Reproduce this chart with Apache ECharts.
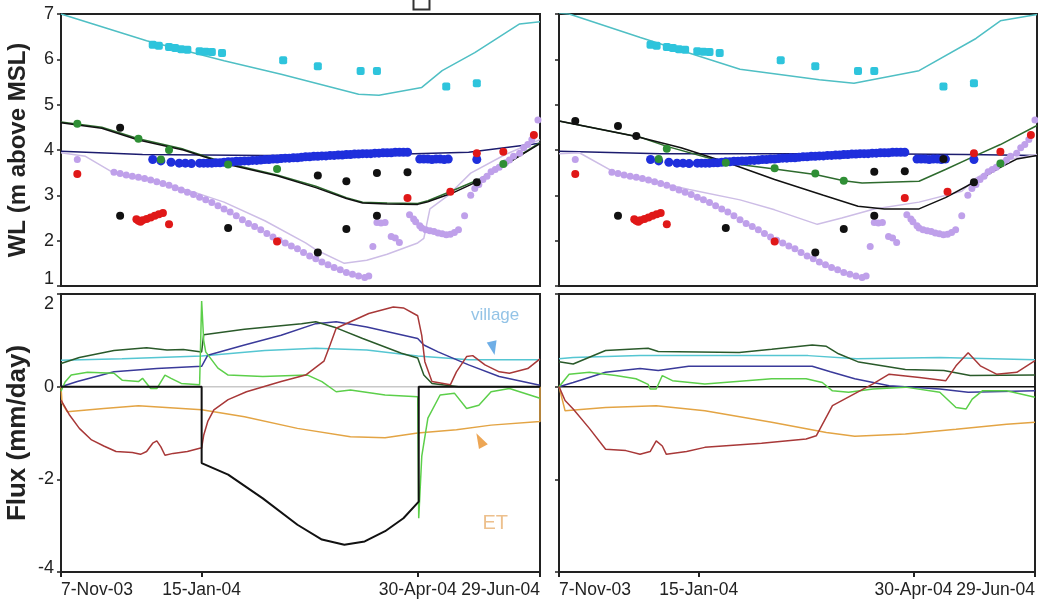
<!DOCTYPE html>
<html><head><meta charset="utf-8">
<script src="https://cdn.jsdelivr.net/npm/echarts@6/dist/echarts.min.js"></script>
<style>html,body{margin:0;padding:0;background:#fff}#c{width:1038px;height:603px}</style>
</head><body><div id="c"></div><script>
// x values are days since 7-Nov-2003
const tickDays = [0, 69, 175, 235];
const tickLabels = ['7-Nov-03', '15-Jan-04', '30-Apr-04', '29-Jun-04'];
const wlTicks = [1, 2, 3, 4, 5, 6, 7];
const fluxTicks = [-4, -2, 0, 2];

// ---- Water level: observations (shared by both top panels) ----
const obsCyan = [[45,6.32],[48,6.30],[53,6.27],[56,6.25],[59,6.22],[62,6.21],[68,6.18],[71,6.17],[74,6.16],[79,6.14],[109,5.98],[126,5.85],[147,5.74],[155,5.74],[189,5.40],[204,5.47]];
const obsBlue = [[45,3.79],[49,3.76],[54,3.73],[58,3.71],[61,3.71],[64,3.70],[68,3.71],[70,3.71],[72,3.71],[74,3.71],[76,3.72],[78,3.72],[80,3.73],[82,3.74],[84,3.74],[86,3.75],[88,3.75],[90,3.76],[92,3.76],[94,3.77],[96,3.77],[98,3.78],[100,3.79],[102,3.79],[104,3.80],[106,3.80],[108,3.81],[110,3.82],[112,3.82],[114,3.83],[116,3.83],[118,3.84],[120,3.85],[122,3.85],[124,3.86],[126,3.86],[128,3.87],[130,3.87],[132,3.88],[134,3.88],[136,3.89],[138,3.89],[140,3.90],[142,3.90],[144,3.91],[146,3.91],[148,3.92],[150,3.92],[152,3.92],[154,3.93],[156,3.93],[158,3.94],[160,3.94],[162,3.94],[164,3.95],[166,3.95],[168,3.95],[170,3.95],[176,3.80],[178,3.80],[180,3.80],[182,3.79],[184,3.80],[186,3.80],[188,3.79],[190,3.80],[204,3.79]];
const obsRed = [[8,3.47],[37,2.47],[38,2.44],[39,2.42],[40,2.45],[42,2.48],[44,2.51],[46,2.55],[48,2.58],[50,2.61],[53,2.36],[106,1.98],[170,2.94],[191,3.08],[204,3.93],[217,3.96],[232,4.33]];
const obsBlackLow = [[29,2.55],[82,2.28],[126,1.74],[140,2.26],[155,2.55]];
const obsLav = [[8,3.79],[26,3.51],[29,3.48],[32,3.45],[35,3.42],[38,3.40],[41,3.37],[44,3.34],[47,3.30],[50,3.26],[53,3.22],[56,3.17],[59,3.12],[62,3.07],[65,3.02],[68,2.96],[71,2.90],[74,2.84],[77,2.77],[80,2.70],[83,2.63],[86,2.55],[89,2.46],[92,2.38],[95,2.31],[98,2.24],[101,2.16],[104,2.08],[107,2.01],[110,1.95],[113,1.88],[116,1.82],[119,1.74],[122,1.66],[125,1.60],[128,1.53],[131,1.47],[134,1.41],[137,1.36],[140,1.30],[143,1.26],[146,1.22],[149,1.19],[151,1.22],
  [153,1.87],[155,2.40],[157,2.39],[159,2.40],[162,2.09],[164,2.06],[166,1.96],[171,2.57],[173,2.48],[174,2.42],[176,2.33],[177,2.28],[179,2.24],[181,2.22],[183,2.20],[185,2.17],[187,2.15],[189,2.13],[191,2.14],[193,2.18],[195,2.24],[198,2.55],[201,3.00],[203,3.15],[205,3.24],[207,3.35],[209,3.42],[211,3.52],[213,3.57],[215,3.62],[218,3.72],[220,3.78],[222,3.86],[225,3.93],[227,4.05],[229,4.12],[231,4.23],[234,4.66]];
const obsBlackL = [[29,4.49],[126,3.44],[140,3.31],[155,3.49],[170,3.51],[204,3.29]];
const obsGreenL = [[8,4.58],[38,4.25],[49,3.79],[53,4.00],[82,3.68],[106,3.58],[217,3.69]];
const obsBlackR = [[8,4.64],[29,4.53],[38,4.31],[155,3.52],[170,3.53],[189,3.80],[204,3.29]];
const obsGreenR = [[49,3.80],[53,4.03],[82,3.72],[106,3.60],[126,3.48],[140,3.32],[217,3.70]];

// ---- Water level: simulated lines ----
const simCyanL = [[0,7.0],[42,6.41],[80,5.97],[108,5.67],[146,5.23],[156,5.21],[177,5.38],[187,5.75],[203,6.15],[225,6.78],[235,6.83]];
const simNavyL = [[0,3.97],[40,3.90],[100,3.88],[160,3.90],[200,3.95],[235,4.15]];
const simGreenL = [[0,4.62],[20,4.50],[38,4.25],[60,4.02],[82,3.70],[106,3.45],[125,3.20],[140,2.95],[148,2.85],[160,2.83],[175,2.82],[180,2.88],[192,3.10],[205,3.35],[218,3.68],[235,4.16]];
const simBlackL = [[0,4.60],[20,4.48],[38,4.22],[60,4.00],[82,3.68],[106,3.43],[125,3.17],[140,2.93],[148,2.83],[160,2.81],[175,2.80],[180,2.86],[192,3.05],[205,3.32],[218,3.68],[235,4.14]];
const simLavL = [[0,3.94],[12,3.86],[26,3.49],[45,3.32],[66,3.06],[80,2.85],[100,2.44],[120,1.95],[125,1.80],[139,1.50],[150,1.57],[160,1.70],[175,1.95],[178,2.05],[181,2.70],[190,3.00],[201,3.49],[218,3.90],[235,4.23]];
const simCyanR = [[0,7.02],[5,7.0],[40,6.48],[89,5.78],[128,5.55],[145,5.47],[177,5.75],[205,6.46],[217,6.85],[235,6.99]];
const simNavyR = [[0,3.97],[50,3.92],[100,3.92],[150,3.92],[200,3.90],[235,3.88]];
const simGreenR = [[0,4.64],[40,4.28],[53,4.08],[82,3.72],[106,3.58],[126,3.46],[140,3.32],[149,3.27],[177,3.31],[190,3.57],[204,3.86],[217,4.12],[235,4.54]];
const simBlackR = [[0,4.64],[38,4.30],[60,4.05],[83,3.72],[106,3.35],[130,3.00],[147,2.76],[160,2.70],[177,2.70],[190,2.95],[205,3.31],[217,3.62],[225,3.80],[235,3.88]];
const simLavR = [[0,3.92],[10,3.94],[28,3.49],[64,3.13],[89,2.90],[106,2.68],[127,2.36],[139,2.50],[155,2.70],[177,2.85],[198,3.09],[205,3.38],[221,3.79],[235,3.90]];

// ---- Flux (mm/day), left panel ----
const fluxZeroL = [[0,0],[235,0]];
const fluxCyanL = [[0,0.57],[30,0.60],[69,0.66],[100,0.78],[125,0.83],[150,0.79],[175,0.66],[200,0.58],[235,0.58]];
const fluxDkGreenL = [[0,0.50],[9,0.63],[26,0.78],[42,0.84],[52,0.79],[60,0.80],[69,0.75],[70,1.12],[90,1.24],[118,1.36],[125,1.40],[135,1.27],[148,1.04],[167,0.72],[175,0.62],[178,0.25],[182,0.07],[195,0.0],[235,0.0]];
const fluxNavyL = [[0,0],[8,0.11],[26,0.32],[47,0.39],[69,0.44],[72,0.68],[90,0.90],[108,1.11],[125,1.36],[135,1.40],[150,1.29],[175,1.04],[178,0.90],[185,0.75],[200,0.47],[215,0.22],[235,0.03]];
const fluxRedL = [[0,-0.29],[4,-0.60],[9,-0.90],[15,-1.15],[21,-1.28],[27,-1.40],[35,-1.42],[39,-1.46],[42,-1.40],[45,-1.22],[47,-1.17],[49,-1.30],[51,-1.48],[55,-1.44],[62,-1.40],[69,-1.32],[70,-1.05],[72,-0.75],[75,-0.50],[82,-0.28],[91,-0.11],[108,0.11],[120,0.25],[129,0.55],[132,0.90],[135,1.26],[142,1.40],[151,1.58],[163,1.72],[168,1.70],[175,1.53],[177,1.10],[178.5,0.54],[182,0.11],[191,0.04],[194,0.32],[199,0.65],[202,0.67],[208,0.47],[215,0.32],[220,0.29],[229,0.39],[235,0.60]];
const fluxBlackL = [[0,0],[69,0],[69,-1.65],[82,-1.90],[99,-2.41],[116,-2.98],[128,-3.30],[139,-3.41],[149,-3.34],[159,-3.12],[168,-2.84],[175.5,-2.48],[175.5,0],[235,0]];
const fluxGreenL = [[0,-0.10],[2,0.10],[5,0.25],[13,0.31],[26,0.29],[30,0.14],[38,0.11],[40,0.18],[44,-0.04],[47,-0.04],[51,0.25],[54,0.18],[59,0.07],[68,0.04],[69,1.85],[70,1.00],[71,0.75],[77,0.40],[82,0.25],[99,0.22],[121,0.25],[128,0.11],[135,-0.11],[142,-0.07],[159,-0.18],[175,-0.22],[175.5,-2.84],[177,-1.50],[180,-0.68],[186,-0.18],[193,-0.14],[199,-0.47],[205,-0.40],[211,-0.11],[220,-0.04],[235,-0.25]];
const fluxOrangeL = [[0,0],[0.5,-0.35],[3,-0.54],[21,-0.47],[38,-0.41],[69,-0.50],[90,-0.65],[116,-0.90],[142,-1.08],[159,-1.10],[175,-1.00],[194,-0.93],[211,-0.83],[235,-0.75],[235,0]];

// ---- Flux (mm/day), right panel ----
const fluxCyanR = [[0,0.60],[7,0.63],[40,0.67],[123,0.67],[147,0.60],[188,0.63],[235,0.58]];
const fluxDkGreenR = [[0,0.54],[7,0.49],[23,0.78],[44,0.83],[49,0.76],[89,0.74],[105,0.81],[125,0.90],[132,0.87],[138,0.71],[148,0.53],[171,0.37],[190,0.35],[203,0.24],[235,0.25]];
const fluxNavyR = [[0,0],[7,0.09],[23,0.31],[40,0.39],[49,0.35],[64,0.44],[125,0.44],[134,0.32],[146,0.17],[163,0.02],[188,-0.05],[202,-0.12],[235,-0.09]];
const fluxBlackR = [[0,0],[235,0]];
const fluxRedR = [[0,0],[3,-0.30],[7,-0.48],[15,-0.90],[23,-1.35],[33,-1.38],[40,-1.46],[45,-1.40],[48,-1.17],[51,-1.28],[53,-1.46],[63,-1.40],[72,-1.31],[100,-1.22],[122,-1.13],[127,-1.06],[135,-0.41],[155,0.06],[163,0.27],[178,0.20],[191,0.13],[196,0.45],[202,0.73],[208,0.45],[216,0.27],[226,0.31],[235,0.56]];
const fluxGreenR = [[0,0],[5,0.27],[15,0.31],[28,0.24],[38,0.17],[44,0.05],[45,-0.05],[48,-0.05],[51,0.24],[56,0.13],[72,0.06],[105,0.17],[122,0.17],[130,0.09],[135,-0.09],[143,-0.12],[155,-0.05],[171,-0.01],[188,-0.12],[196,-0.45],[201,-0.48],[204,-0.27],[209,-0.09],[221,-0.09],[235,-0.23]];
const fluxOrangeR = [[0,0],[3,-0.52],[23,-0.45],[48,-0.41],[72,-0.52],[105,-0.77],[132,-0.99],[146,-1.07],[171,-1.02],[196,-0.92],[221,-0.81],[235,-0.77]];

// annotation anchors (data coords)
const villageLabel = [213, 1.53];
const villageArrow = [212, 0.83];
const etLabel = [213, -2.96];
const etArrow = [205.5, -1.15];

const FONT = 'Liberation Sans, Arial, sans-serif';
const chart = echarts.init(document.getElementById('c'), null, {renderer: 'canvas'});

function line(data, color, idx, w, z) {
  return {type: 'line', data, xAxisIndex: idx, yAxisIndex: idx, symbol: 'none', smooth: false,
    lineStyle: {color, width: w || 1.5}, z: z || 2, silent: true, animation: false};
}
function dots(data, color, idx, size, sym, z) {
  return {type: 'scatter', data, xAxisIndex: idx, yAxisIndex: idx, symbol: sym || 'circle',
    symbolSize: size || 8, itemStyle: {color, opacity: 1}, z: z || 3, silent: true, animation: false};
}

const grids = [
  {left: 61, top: 14, width: 479, height: 272},
  {left: 559, top: 14, width: 478, height: 272},
  {left: 61, top: 294, width: 479, height: 278},
  {left: 559, top: 294, width: 478, height: 278}
].map(g => Object.assign(g, {show: true, borderColor: '#222', borderWidth: 2, backgroundColor: 'transparent'}));

const xAxes = [0,1,2,3].map(i => {
  const bottom = i >= 2;
  return {
    gridIndex: i, type: 'value', min: 0, max: 235,
    axisLine: {show: true, onZero: false, lineStyle: {color: '#222', width: 2}},
    axisTick: {show: bottom, customValues: tickDays, length: 5, lineStyle: {color: '#222', width: 2}},
    axisLabel: {show: bottom, customValues: tickDays, formatter: v => tickLabels[tickDays.indexOf(v)] || '',
      fontSize: 17.5, fontFamily: FONT, color: '#222', margin: 9, alignMinLabel: 'left', alignMaxLabel: 'right'},
    splitLine: {show: false}
  };
});
const labStyle = {fontSize: 18, fontFamily: FONT, color: '#222'};
const yAxes = [0,1,2,3].map(i => {
  const top = i < 2, leftPanel = (i % 2 === 0);
  const ax = {
    gridIndex: i, type: 'value',
    min: top ? 1 : -4, max: top ? 7 : 2, interval: top ? 1 : 2,
    axisLine: {show: true, onZero: false, lineStyle: {color: '#222', width: 2}},
    axisTick: {show: true, length: 4, lineStyle: {color: '#222', width: 1.5}},
    axisLabel: {show: leftPanel, fontSize: 18, fontFamily: FONT, color: '#222', margin: 7,
      formatter: v => {
        if (top && v === 1) return '{lo|1}';
        if (!top && v === 2) return '{hi|2}';
        if (!top && v === -4) return '{lo2|-4}';
        return String(v);
      },
      rich: {
        lo: Object.assign({padding: [0, 0, 13, 0]}, labStyle),
        lo2: Object.assign({padding: [0, 0, 7, 0]}, labStyle),
        hi: Object.assign({padding: [20, 0, 0, 0]}, labStyle)
      }},
    splitLine: {show: false}
  };
  if (leftPanel) {
    ax.name = top ? 'WL (m above MSL)' : 'Flux (mm/day)';
    ax.nameLocation = 'middle';
    ax.nameGap = top ? 31 : 30;
    ax.nameTextStyle = {fontSize: top ? 24 : 26, fontWeight: 'bold', fontFamily: FONT, color: '#222'};
  }
  return ax;
});

const C = {
  simCyan: '#4fbfc4', obsCyan: '#2ec4dc', navy: '#1c1c6e', blue: '#1f2fdc', simGreen: '#2e6b2e',
  black: '#111111', obsGreen: '#2f8f35', red: '#e01818', lav: '#bfa0ea', lavLine: '#cdbde6',
  fCyan: '#55c6d2', fDkGreen: '#2a5a2a', fNavy: '#3a3a9a', fGreen: '#5ccf4a', fRed: '#a83838', fOrange: '#e3a444', zero: '#c8c8c8'
};

const series = [
  // top-left
  line(simCyanL, C.simCyan, 0), line(simNavyL, C.navy, 0), line(simLavL, C.lavLine, 0),
  line(simGreenL, C.simGreen, 0), line(simBlackL, C.black, 0),
  dots(obsLav, C.lav, 0, 7), dots(obsBlue, C.blue, 0, 9), dots(obsCyan, C.obsCyan, 0, 8, 'roundRect'),
  dots(obsRed, C.red, 0, 8), dots(obsGreenL, C.obsGreen, 0, 8), dots(obsBlackL, C.black, 0, 8), dots(obsBlackLow, C.black, 0, 8),
  // top-right
  line(simCyanR, C.simCyan, 1), line(simNavyR, C.navy, 1), line(simLavR, C.lavLine, 1),
  line(simGreenR, C.simGreen, 1), line(simBlackR, C.black, 1),
  dots(obsLav, C.lav, 1, 7), dots(obsBlue, C.blue, 1, 9), dots(obsCyan, C.obsCyan, 1, 8, 'roundRect'),
  dots(obsRed, C.red, 1, 8), dots(obsGreenR, C.obsGreen, 1, 8), dots(obsBlackR, C.black, 1, 8), dots(obsBlackLow, C.black, 1, 8),
  // bottom-left
  line(fluxZeroL, C.zero, 2, 1.5, 1),
  line(fluxOrangeL, C.fOrange, 2), line(fluxCyanL, C.fCyan, 2), line(fluxNavyL, C.fNavy, 2),
  line(fluxDkGreenL, C.fDkGreen, 2), line(fluxGreenL, C.fGreen, 2), line(fluxRedL, C.fRed, 2), line(fluxBlackL, C.black, 2, 2),
  // bottom-right
  line(fluxBlackR, C.black, 3, 1.5), line(fluxOrangeR, C.fOrange, 3), line(fluxCyanR, C.fCyan, 3), line(fluxNavyR, C.fNavy, 3),
  line(fluxDkGreenR, C.fDkGreen, 3), line(fluxGreenR, C.fGreen, 3), line(fluxRedR, C.fRed, 3),
  // annotations (bottom-left)
  {type: 'scatter', xAxisIndex: 2, yAxisIndex: 2, silent: true, animation: false, z: 5,
   data: [
     {value: villageLabel, symbolSize: 1, itemStyle: {color: 'rgba(0,0,0,0)'},
      label: {show: true, position: 'inside', formatter: 'village', color: '#78b4e0', fontSize: 17, fontFamily: FONT}},
     {value: etLabel, symbolSize: 1, itemStyle: {color: 'rgba(0,0,0,0)'},
      label: {show: true, position: 'inside', formatter: 'ET', color: '#e8b070', fontSize: 20, fontFamily: FONT}},
     {value: villageArrow, symbol: 'path://M0,0 L12,0 L6,16 Z', symbolSize: [10, 14], symbolRotate: 12, itemStyle: {color: '#4a9ae0'}},
     {value: etArrow, symbol: 'path://M6,0 L12,16 L0,16 Z', symbolSize: [10, 15], symbolRotate: 28, itemStyle: {color: '#e8902a'}}
   ]}
];

chart.setOption({
  animation: false,
  backgroundColor: '#ffffff',
  grid: grids, xAxis: xAxes, yAxis: yAxes, series,
  graphic: [{type: 'rect', left: 411, top: -6, shape: {width: 16, height: 13}, style: {fill: 'none', stroke: '#333', lineWidth: 2}}]
});
</script></body></html>
